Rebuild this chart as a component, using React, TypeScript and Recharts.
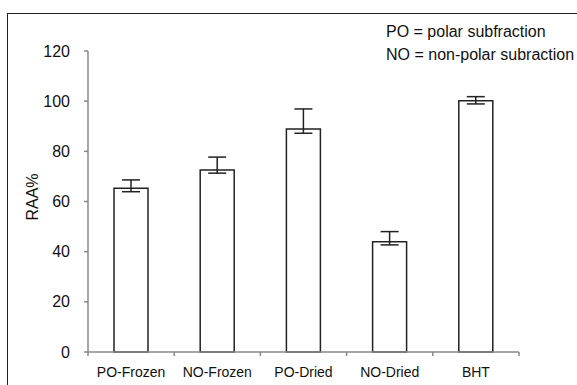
import { BarChart, Bar, XAxis, YAxis, ErrorBar } from 'recharts'

const categories = ['PO-Frozen', 'NO-Frozen', 'PO-Dried', 'NO-Dried', 'BHT']
const values = [65.3, 72.6, 88.9, 44.0, 100.2]
const errLow = [1.4, 1.3, 1.7, 1.3, 1.3]
const errHigh = [3.3, 5.1, 8.0, 4.0, 1.6]
const yTicks = [0, 20, 40, 60, 80, 100, 120]

const data = categories.map((name, i) => ({
  name,
  value: values[i],
  err: [errLow[i], errHigh[i]],
}))

const W = 577
const H = 385
const margin = { top: 51, right: 58, bottom: 0, left: 0 }
const yAxisWidth = 88
const band = (W - margin.left - margin.right - yAxisWidth) / categories.length
const font = '"Liberation Sans", Arial, sans-serif'

// ticks sit between categories, like the excel original
function CategoryTick(props: any) {
  const { x, y, payload, index } = props
  const left = x - band / 2
  return (
    <g>
      <line x1={left} x2={left} y1={y} y2={y + 4} stroke="#888" strokeWidth={1.5} />
      {index === categories.length - 1 && (
        <line x1={x + band / 2} x2={x + band / 2} y1={y} y2={y + 4} stroke="#888" strokeWidth={1.5} />
      )}
      <text x={x} y={y + 25} textAnchor="middle" fontSize={14} fill="#111" fontFamily={font}>
        {payload.value}
      </text>
    </g>
  )
}

function ValueTick(props: any) {
  const { y, payload } = props
  return (
    <text x={yAxisWidth - 18} y={y} dy={5.5} textAnchor="end" fontSize={16} fill="#111" fontFamily={font}>
      {payload.value}
    </text>
  )
}

export default function App() {
  return (
    <div style={{ position: 'absolute', left: 0, top: 0, width: W, height: H, overflow: 'hidden', background: '#fff' }}>
      <div
        style={{
          position: 'absolute',
          left: 7,
          top: 13,
          width: 620,
          height: 420,
          border: '1.5px solid #222',
          boxSizing: 'border-box',
        }}
      />
      <div style={{ position: 'absolute', left: 0, top: 0 }}>
        <BarChart width={W} height={H} data={data} margin={margin}>
          <XAxis
            dataKey="name"
            height={33}
            interval={0}
            tickSize={0}
            tickMargin={0}
            tickLine={false}
            axisLine={{ stroke: '#888', strokeWidth: 1.5 }}
            tick={<CategoryTick />}
          />
          <YAxis
            width={yAxisWidth}
            domain={[0, 120]}
            ticks={yTicks}
            interval={0}
            tickSize={4}
            axisLine={{ stroke: '#888', strokeWidth: 1.5 }}
            tickLine={{ stroke: '#888', strokeWidth: 1.5 }}
            tick={<ValueTick />}
          />
          <Bar dataKey="value" barSize={34} fill="#fff" stroke="#222" strokeWidth={1.5} isAnimationActive={false}>
            <ErrorBar dataKey="err" width={9} stroke="#222" strokeWidth={1.5} isAnimationActive={false} />
          </Bar>
        </BarChart>
      </div>
      <div
        style={{
          position: 'absolute',
          left: 33,
          top: 197,
          transform: 'translate(-50%, -50%) rotate(-90deg)',
          fontFamily: font,
          fontSize: 16,
          color: '#111',
          whiteSpace: 'nowrap',
        }}
      >
        RAA%
      </div>
      <div style={{ position: 'absolute', left: 386, top: 20, fontFamily: font, fontSize: 16, color: '#111', lineHeight: '23px', whiteSpace: 'nowrap' }}>
        <div>PO = polar subfraction</div>
        <div>NO = non-polar subraction</div>
      </div>
    </div>
  )
}
